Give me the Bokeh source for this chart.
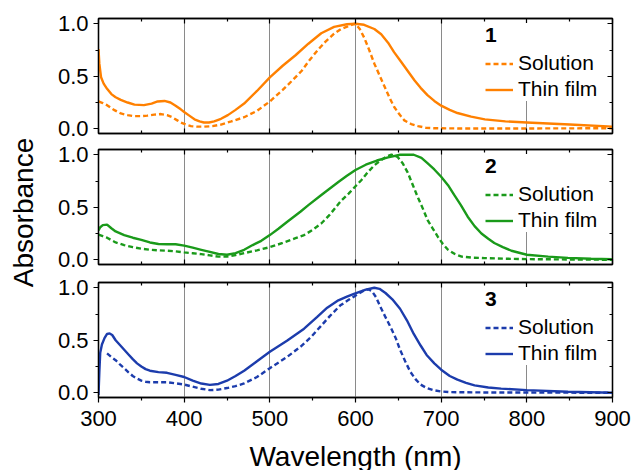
from math import pi
from bokeh.plotting import figure
from bokeh.models import (LinearAxis, FixedTicker, NumeralTickFormatter, Grid, Legend,
                          Range1d, Label, CustomLabelingPolicy)
from bokeh.layouts import column, row
from bokeh.embed import file_html
from bokeh.resources import INLINE

# ---------------- data ----------------
sol1_x = [300, 305, 310, 318, 326, 334, 342, 350, 357, 365, 373, 380, 386, 392, 396, 402, 408, 415,
          423, 433, 443, 455, 470, 485, 500, 515, 525, 537, 546, 556, 565, 575, 583, 591, 597, 600,
          605, 610, 616, 622, 628, 634, 640, 645, 651, 657, 665, 673, 682, 692, 720, 800, 900]
sol1_y = [0.26, 0.245, 0.225, 0.18, 0.146, 0.13, 0.12, 0.12, 0.125, 0.135, 0.14, 0.13, 0.11, 0.08,
          0.06, 0.04, 0.025, 0.02, 0.02, 0.025, 0.04, 0.07, 0.11, 0.17, 0.26, 0.37, 0.45, 0.55, 0.65,
          0.75, 0.83, 0.905, 0.95, 0.975, 0.995, 1.0, 0.95, 0.87, 0.75, 0.62, 0.51, 0.40, 0.29, 0.21,
          0.14, 0.08, 0.045, 0.025, 0.01, 0.005, 0.003, 0.003, 0.005]
film1_x = [300, 301, 303, 306, 310, 315, 320, 326, 334, 342, 353, 362, 369, 377, 384, 390, 396, 400,
           406, 412, 418, 423, 429, 435, 443, 451, 460, 470, 485, 500, 515, 530, 545, 560, 575, 590,
           600, 610, 622, 630, 638, 645, 653, 661, 669, 676, 684, 692, 700, 710, 719, 735, 751, 775,
           800, 850, 900]
film1_y = [0.76, 0.62, 0.49, 0.43, 0.38, 0.33, 0.30, 0.275, 0.25, 0.23, 0.225, 0.24, 0.26, 0.265,
           0.25, 0.22, 0.185, 0.16, 0.125, 0.09, 0.07, 0.06, 0.06, 0.07, 0.095, 0.13, 0.18, 0.24,
           0.36, 0.49, 0.60, 0.70, 0.81, 0.91, 0.97, 0.995, 1.0, 0.99, 0.95, 0.90, 0.82, 0.73, 0.64,
           0.55, 0.46, 0.39, 0.32, 0.265, 0.22, 0.18, 0.15, 0.115, 0.09, 0.07, 0.06, 0.04, 0.02]

sol2_x = [300, 305, 310, 320, 330, 340, 350, 360, 370, 380, 390, 400, 410, 420, 430, 440, 450, 460,
          470, 485, 500, 515, 530, 540, 550, 560, 570, 583, 592, 600, 607, 614, 622, 630, 637, 642,
          646, 649, 655, 661, 667, 673, 679, 684, 690, 696, 702, 708, 716, 724, 737, 751, 775, 800,
          850, 900]
sol2_y = [0.24, 0.225, 0.21, 0.165, 0.14, 0.12, 0.105, 0.095, 0.09, 0.086, 0.08, 0.07, 0.062, 0.054,
          0.042, 0.03, 0.03, 0.045, 0.063, 0.09, 0.12, 0.16, 0.205, 0.235, 0.285, 0.345, 0.43, 0.56,
          0.63, 0.70, 0.76, 0.83, 0.90, 0.95, 0.985, 1.0, 0.99, 0.98, 0.92, 0.83, 0.71, 0.59, 0.48,
          0.38, 0.30, 0.22, 0.15, 0.095, 0.055, 0.03, 0.02, 0.016, 0.01, 0.006, 0.003, 0.0]
film2_x = [300, 302, 305, 310, 315, 320, 330, 340, 350, 360, 370, 380, 390, 400, 410, 420, 430, 440,
           450, 460, 470, 480, 490, 500, 510, 520, 536, 545, 559, 567, 580, 590, 600, 612, 625, 638,
           652, 668, 677, 684, 692, 700, 708, 715, 723, 731, 739, 747, 755, 762, 772, 782, 800, 825,
           848, 875, 900]
film2_y = [0.28, 0.31, 0.33, 0.335, 0.30, 0.27, 0.235, 0.21, 0.19, 0.165, 0.15, 0.148, 0.148, 0.135,
           0.115, 0.095, 0.075, 0.055, 0.048, 0.063, 0.095, 0.14, 0.18, 0.235, 0.295, 0.36, 0.46,
           0.52, 0.61, 0.66, 0.74, 0.80, 0.855, 0.905, 0.945, 0.975, 1.0, 1.0, 0.97, 0.92, 0.86, 0.79,
           0.71, 0.62, 0.52, 0.41, 0.32, 0.25, 0.20, 0.16, 0.12, 0.086, 0.048, 0.03, 0.018, 0.01,
           0.005]

sol3_x = [310, 315, 320, 325, 330, 335, 340, 345, 350, 355, 360, 370, 380, 390, 400, 410, 420, 430,
          440, 450, 460, 470, 485, 500, 520, 536, 548, 559, 570, 582, 592, 599, 605, 610, 615, 619,
          624, 629, 635, 641, 647, 652, 658, 664, 670, 676, 683, 691, 700, 711, 750, 800, 900]
sol3_y = [0.375, 0.34, 0.31, 0.27, 0.234, 0.195, 0.16, 0.135, 0.115, 0.105, 0.10, 0.10, 0.10, 0.09,
          0.078, 0.058, 0.038, 0.025, 0.03, 0.045, 0.063, 0.09, 0.15, 0.234, 0.34, 0.44, 0.53, 0.63,
          0.73, 0.83, 0.885, 0.92, 0.95, 0.975, 0.985, 0.97, 0.91, 0.82, 0.72, 0.625, 0.52, 0.41,
          0.30, 0.20, 0.13, 0.078, 0.045, 0.025, 0.012, 0.006, 0.003, 0.002, 0.0]
film3_x = [300, 301, 302, 304, 307, 310, 313, 316, 320, 325, 330, 335, 340, 345, 350, 355, 360, 370,
           380, 390, 400, 410, 420, 430, 440, 450, 460, 470, 485, 500, 520, 540, 555, 567, 580, 590,
           599, 612, 622, 628, 635, 643, 652, 660, 668, 676, 683, 692, 700, 710, 719, 729, 739, 755,
           770, 800, 848, 900]
film3_y = [-0.02, 0.20, 0.38, 0.46, 0.52, 0.56, 0.565, 0.55, 0.50, 0.455, 0.41, 0.365, 0.32, 0.28,
           0.25, 0.225, 0.21, 0.197, 0.19, 0.17, 0.15, 0.115, 0.088, 0.075, 0.084, 0.115, 0.16, 0.21,
           0.30, 0.39, 0.495, 0.61, 0.72, 0.81, 0.88, 0.915, 0.945, 0.982, 1.0, 0.99, 0.95, 0.89,
           0.80, 0.69, 0.56, 0.45, 0.36, 0.28, 0.22, 0.16, 0.125, 0.095, 0.07, 0.05, 0.04, 0.025,
           0.01, 0.0]

panel_labels = ["1", "2", "3"]
series_names = ["Solution", "Thin film"]
x_ticks = [300, 400, 500, 600, 700, 800, 900]
x_minor = [350, 450, 550, 650, 750, 850]
grid_ticks = [400, 500, 600, 700, 800]
y_ticks = [0.0, 0.5, 1.0]
y_minor = [0.25, 0.75]
colors = ["#ff8000", "#1a9a1a", "#1c3cac"]
y_title = "Absorbance"
x_title = "Wavelength (nm)"

FONT = "Liberation Sans"
data = [(sol1_x, sol1_y, film1_x, film1_y),
        (sol2_x, sol2_y, film2_x, film2_y),
        (sol3_x, sol3_y, film3_x, film3_y)]

LABEL_W = 40
borders = [(18, 8), (8, 9), (9, 8)]
figs = []
for i in range(3):
    sx, sy, fx, fy = data[i]
    last = (i == 2)
    top_b, bot_b = borders[i]
    p = figure(frame_width=514, frame_height=115, output_backend="svg", toolbar_location=None,
               x_range=Range1d(300, 900), y_range=Range1d(-0.045, 1.05),
               x_axis_location=None, y_axis_location=None,
               min_border_left=98 - LABEL_W, min_border_right=21, min_border_top=top_b,
               min_border_bottom=bot_b)
    p.grid.visible = False
    p.outline_line_color = "black"
    p.outline_line_width = 1.3
    p.background_fill_color = "white"
    p.border_fill_color = "white"

    xt = FixedTicker(ticks=x_ticks, minor_ticks=x_minor)
    yt = FixedTicker(ticks=y_ticks, minor_ticks=y_minor)

    def style(ax, show_labels, tin, tout):
        ax.axis_line_color = "black"
        ax.axis_line_width = 1.3
        ax.major_tick_line_color = "black"
        ax.minor_tick_line_color = "black"
        ax.major_tick_line_width = 1.2
        ax.minor_tick_line_width = 1.2
        ax.major_tick_in = 5 if tin else 0
        ax.major_tick_out = 5 if tout else 0
        ax.minor_tick_in = 3 if tin else 0
        ax.minor_tick_out = 3 if tout else 0
        ax.major_label_text_font = FONT
        ax.major_label_text_color = "black"
        ax.major_label_text_font_size = "22px"
        if not show_labels:
            ax.major_label_policy = CustomLabelingPolicy(code="return new Set()")
            ax.major_label_text_font_size = "1px"
            ax.major_label_standoff = 0

    left = LinearAxis(ticker=yt, formatter=NumeralTickFormatter(format="0.0"))
    style(left, True, False, True)
    left.major_label_standoff = 5
    p.add_layout(left, "left")

    right = LinearAxis(ticker=yt)
    style(right, False, True, False)
    p.add_layout(right, "right")

    top = LinearAxis(ticker=xt)
    style(top, False, True, False)
    p.add_layout(top, "above")

    bottom = LinearAxis(ticker=xt)
    if last:
        style(bottom, True, False, True)
        bottom.major_label_standoff = 8
        bottom.axis_label = x_title
        bottom.axis_label_text_font = FONT
        bottom.axis_label_text_font_style = "normal"
        bottom.axis_label_text_font_size = "28px"
        bottom.axis_label_text_color = "black"
        bottom.axis_label_standoff = 12
    else:
        style(bottom, False, True, False)
    p.add_layout(bottom, "below")

    p.add_layout(Grid(dimension=0, ticker=FixedTicker(ticks=grid_ticks),
                      grid_line_color="#8a8a8a", grid_line_width=1, level="underlay"))

    r_sol = p.line(sx, sy, line_color=colors[i], line_width=2.4, line_dash="5 3")
    r_film = p.line(fx, fy, line_color=colors[i], line_width=2.4)

    leg = Legend(items=[(series_names[0], [r_sol]), (series_names[1], [r_film])],
                 title=panel_labels[i], location=(387, 32), margin=0, padding=0,
                 spacing=2, label_height=21, glyph_height=21, glyph_width=28,
                 label_standoff=5, title_standoff=4,
                 label_text_font=FONT, label_text_font_size="21px", label_text_color="black",
                 title_text_font=FONT, title_text_font_size="21px", title_text_color="black",
                 title_text_font_style="bold",
                 background_fill_color="white", background_fill_alpha=1.0,
                 border_line_alpha=0)
    p.add_layout(leg)
    figs.append(p)

# narrow figure holding the shared y-axis title
lab = figure(width=LABEL_W, height=470, output_backend="svg", toolbar_location=None,
             x_range=Range1d(0, LABEL_W), y_range=Range1d(0, 470),
             x_axis_location=None, y_axis_location=None, min_border=0)
lab.outline_line_color = None
lab.grid.visible = False
lab.add_layout(Label(x=23, y=258, text=y_title, angle=pi / 2, text_align="center",
                     text_baseline="middle", text_font=FONT, text_font_size="28px",
                     text_color="black"))

layout = row(lab, column(*figs, spacing=0), spacing=0)
open("out.html", "w").write(file_html(layout, INLINE))
